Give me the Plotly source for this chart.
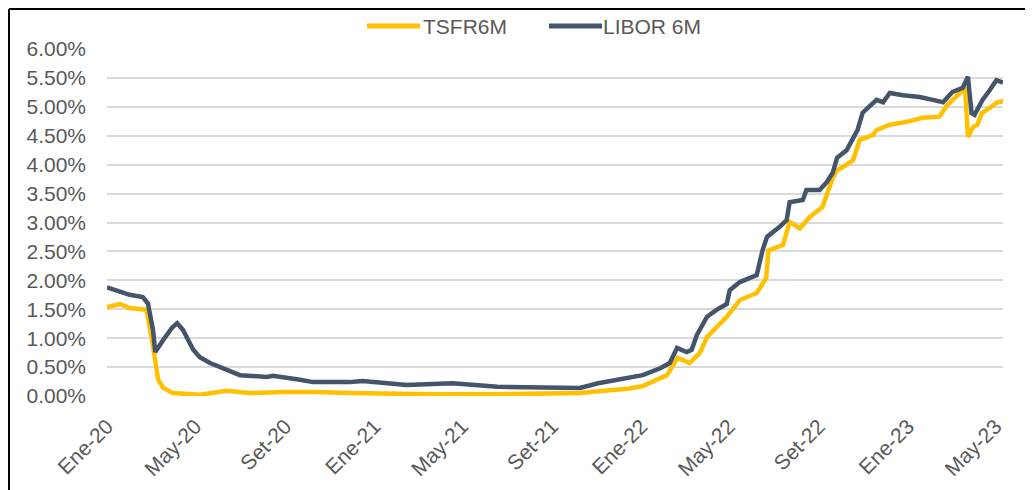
import plotly.graph_objects as go

# ---- data ----
tsfr_dates = ["2020-01-01","2020-01-19","2020-02-01","2020-02-24","2020-03-02","2020-03-07","2020-03-11","2020-03-18","2020-03-31","2020-05-07","2020-06-13","2020-07-14","2020-08-28","2020-10-14","2020-11-28",
              "2021-03-17","2021-06-18","2021-10-09","2021-11-22","2021-12-16",
              "2022-01-03","2022-02-05","2022-02-20","2022-03-08","2022-03-22","2022-04-01","2022-04-28","2022-05-16","2022-06-08","2022-06-21","2022-06-24","2022-07-14","2022-07-23","2022-08-06","2022-08-20","2022-09-06","2022-09-20","2022-09-26","2022-10-04","2022-10-18","2022-10-27","2022-11-14","2022-11-19","2022-12-07","2022-12-30",
              "2023-01-21","2023-02-13","2023-02-23","2023-03-13","2023-03-20","2023-03-24","2023-03-31","2023-04-06","2023-04-12","2023-04-23","2023-05-02","2023-05-11"]
tsfr_vals = [1.54,1.59,1.52,1.49,1.02,0.67,0.28,0.14,0.05,0.02,0.09,0.05,0.07,0.07,0.05,
             0.03,0.03,0.05,0.10,0.13,
             0.17,0.36,0.66,0.57,0.74,1.02,1.37,1.66,1.78,2.04,2.52,2.61,3.01,2.90,3.10,3.27,3.77,3.91,3.96,4.08,4.43,4.51,4.60,4.69,4.74,
             4.81,4.83,5.02,5.24,5.34,4.48,4.65,4.69,4.89,4.98,5.07,5.10]

libor_dates = ["2020-01-01","2020-02-01","2020-02-19","2020-02-26","2020-03-04","2020-03-07","2020-03-18","2020-03-30","2020-04-06","2020-04-14","2020-04-28","2020-05-07","2020-05-21","2020-06-08","2020-07-01","2020-08-07","2020-08-15","2020-09-21","2020-10-09","2020-11-28","2020-12-16",
               "2021-02-14","2021-04-18","2021-06-18","2021-08-25","2021-10-09","2021-11-03","2021-12-16",
               "2022-01-03","2022-01-27","2022-02-09","2022-02-19","2022-03-04","2022-03-11","2022-03-18","2022-04-01","2022-04-14","2022-04-28","2022-05-02","2022-05-16","2022-06-08","2022-06-16","2022-06-22","2022-07-09","2022-07-19","2022-07-23","2022-08-10","2022-08-15","2022-09-02","2022-09-12","2022-09-20","2022-09-26","2022-10-09","2022-10-18","2022-10-24","2022-10-31","2022-11-19","2022-11-28","2022-12-07","2022-12-25",
               "2023-01-17","2023-02-04","2023-02-18","2023-03-03","2023-03-17","2023-03-24","2023-03-29","2023-04-02","2023-04-13","2023-04-23","2023-05-02","2023-05-11"]
libor_vals = [1.88,1.75,1.71,1.60,1.14,0.76,0.97,1.18,1.26,1.14,0.80,0.67,0.57,0.47,0.36,0.33,0.35,0.28,0.24,0.24,0.26,
              0.19,0.22,0.16,0.14,0.14,0.22,0.33,
              0.36,0.48,0.57,0.83,0.76,0.80,1.05,1.37,1.49,1.59,1.83,1.97,2.09,2.52,2.75,2.92,3.04,3.35,3.39,3.56,3.56,3.70,3.86,4.12,4.25,4.46,4.60,4.90,5.12,5.08,5.24,5.20,
              5.17,5.12,5.08,5.26,5.33,5.52,4.89,4.86,5.12,5.29,5.46,5.42]

tick_dates = ["2020-01-01","2020-05-01","2020-09-01","2021-01-01","2021-05-01","2021-09-01",
              "2022-01-01","2022-05-01","2022-09-01","2023-01-01","2023-05-01"]
tick_labels = ["Ene-20","May-20","Set-20","Ene-21","May-21","Set-21",
               "Ene-22","May-22","Set-22","Ene-23","May-23"]

series_names = ["TSFR6M", "LIBOR 6M"]
series_colors = ["#FFC000", "#44546A"]

FONT = "Liberation Sans, Arial, sans-serif"
TXT = "#595959"

fig = go.Figure()
fig.add_trace(go.Scatter(x=tsfr_dates, y=tsfr_vals, mode="lines", name=series_names[0],
                         line=dict(color=series_colors[0], width=4.5)))
fig.add_trace(go.Scatter(x=libor_dates, y=libor_vals, mode="lines", name=series_names[1],
                         line=dict(color=series_colors[1], width=4.5)))

# the page adds an 8px body margin, so the figure is sized 8px smaller
fig.update_layout(
    width=1025, height=482,
    margin=dict(l=99, r=30, t=41, b=94, autoexpand=False),
    paper_bgcolor="white", plot_bgcolor="white",
    font=dict(family=FONT, size=21, color=TXT),
    showlegend=False,
    xaxis=dict(type="date", range=["2020-01-01", "2023-05-11"],
               tickvals=tick_dates, ticktext=tick_labels, tickangle=-45,
               showgrid=False, showline=False, zeroline=False, ticks="",
               tickfont=dict(size=21, color=TXT), ticklabelstandoff=13, automargin=False),
    yaxis=dict(range=[0, 6], dtick=0.5, tick0=0, tickformat=".2f", ticksuffix="%",
               showgrid=True, gridcolor="#D9D9D9", gridwidth=1.5, zeroline=False,
               showline=False, ticks="", tickfont=dict(size=21, color=TXT),
               ticklabelstandoff=20, automargin=False),
)

# manual legend (line sample + label) at the top
legend_line_x = [(0.2902, 0.3493), (0.4933, 0.5525)]
legend_text_x = [0.3527, 0.5536]
LEG_Y = 1.066
for name, col, (a, b), tx in zip(series_names, series_colors, legend_line_x, legend_text_x):
    fig.add_shape(type="line", xref="paper", yref="paper", x0=a, x1=b, y0=LEG_Y, y1=LEG_Y,
                  line=dict(color=col, width=5))
    fig.add_annotation(xref="paper", yref="paper", x=tx, y=LEG_Y, text=name, showarrow=False,
                       xanchor="left", yanchor="middle", xshift=-2,
                       font=dict(size=21, color=TXT, family=FONT))

# outer frame lines (left and top) of the reference image
fig.add_shape(type="line", xref="paper", yref="paper", x0=-0.1094, x1=1.04, y0=1.1153, y1=1.1153,
              line=dict(color="black", width=2))
fig.add_shape(type="line", xref="paper", yref="paper", x0=-0.1094, x1=-0.1094, y0=1.1153, y1=-0.3,
              line=dict(color="black", width=2))

fig.write_html("out.html")
